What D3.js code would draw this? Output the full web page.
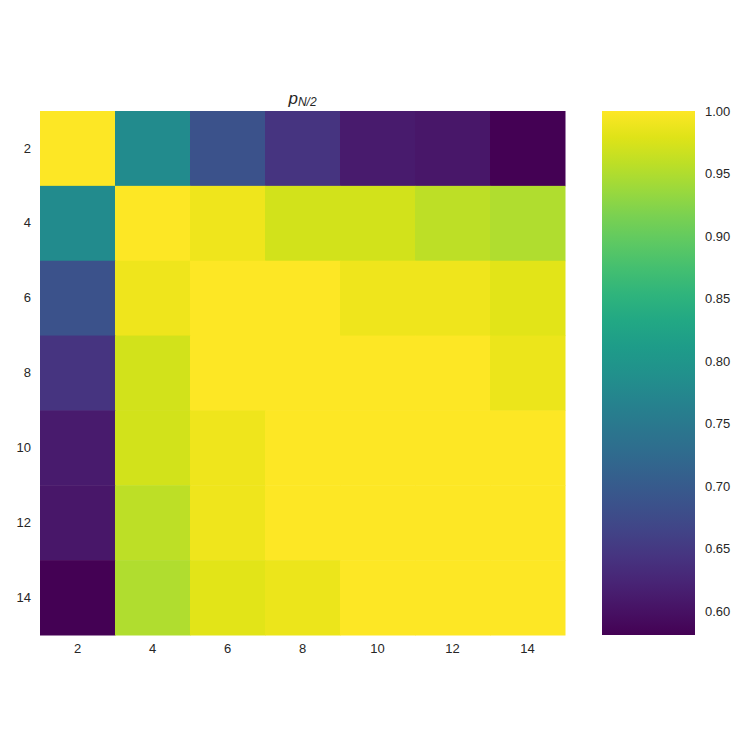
<!DOCTYPE html>
<html>
<head>
<meta charset="utf-8">
<script src="https://cdn.jsdelivr.net/npm/d3@7"></script>
<style>
  body { margin: 0; background: #fff; }
  text { font-family: "Liberation Sans", Arial, sans-serif; fill: #262626; }
</style>
</head>
<body>
<div id="chart"></div>
<script>
(function () {
  var xLabels = [2, 4, 6, 8, 10, 12, 14];
  var yLabels = [2, 4, 6, 8, 10, 12, 14];
  // one row per y label, one value per x label
  var row2 = [1.000, 0.782, 0.687, 0.644, 0.611, 0.607, 0.581];
  var row4 = [0.782, 1.000, 0.989, 0.971, 0.971, 0.958, 0.950];
  var row6 = [0.687, 0.989, 1.000, 1.000, 0.989, 0.989, 0.981];
  var row8 = [0.644, 0.971, 1.000, 1.000, 1.000, 1.000, 0.988];
  var row10 = [0.611, 0.971, 0.989, 1.000, 1.000, 1.000, 1.000];
  var row12 = [0.607, 0.958, 0.989, 1.000, 1.000, 1.000, 1.000];
  var row14 = [0.581, 0.950, 0.981, 0.988, 1.000, 1.000, 1.000];
  var colorTicks = [0.60, 0.65, 0.70, 0.75, 0.80, 0.85, 0.90, 0.95, 1.00];

  var rows = [row2, row4, row6, row8, row10, row12, row14];
  var width = 747;
  var height = 747;
  var plot = {left: 40, top: 111, right: 565, bottom: 635};
  var bar = {left: 602, right: 695};

  var svg = d3.select('#chart').append('svg')
      .attr('width', width)
      .attr('height', height);

  var x = d3.scaleBand().domain(xLabels).range([plot.left, plot.right]);
  var y = d3.scaleBand().domain(yLabels).range([plot.top, plot.bottom]);

  var all = d3.merge(rows);
  var vmin = d3.min(all);
  var vmax = d3.max(all);
  var color = d3.scaleSequential(d3.interpolateViridis).domain([vmin, vmax]);

  /**
   * Heatmap cells
   */
  var cells = [];
  rows.forEach(function (r, i) {
    r.forEach(function (v, j) {
      cells.push({x: xLabels[j], y: yLabels[i], v: v});
    });
  });

  svg.append('g').selectAll('rect')
      .data(cells)
      .enter().append('rect')
      .attr('x', function (d) { return x(d.x); })
      .attr('y', function (d) { return y(d.y); })
      .attr('width', x.bandwidth() + 0.5)
      .attr('height', y.bandwidth() + 0.5)
      .attr('fill', function (d) { return color(d.v); });

  var xAxis = svg.append('g')
      .attr('transform', 'translate(0,' + plot.bottom + ')')
      .call(d3.axisBottom(x).tickSize(0).tickPadding(9));
  var yAxis = svg.append('g')
      .attr('transform', 'translate(' + plot.left + ',0)')
      .call(d3.axisLeft(y).tickSize(0).tickPadding(9));

  [xAxis, yAxis].forEach(function (a) {
    a.select('.domain').remove();
    a.selectAll('text')
        .style('font-family', '"Liberation Sans", Arial, sans-serif')
        .style('font-size', '13px')
        .attr('fill', '#262626');
  });

  // title: italic p with subscript N/2
  var title = svg.append('text')
      .attr('x', (plot.left + plot.right) / 2)
      .attr('y', 104)
      .attr('text-anchor', 'middle')
      .style('font-style', 'italic');
  title.append('tspan').style('font-size', '17px').text('p');
  title.append('tspan').style('font-size', '12px').attr('dy', 2).text('N/2');

  /**
   * Colour bar
   */
  var defs = svg.append('defs');
  var grad = defs.append('linearGradient')
      .attr('id', 'cbar')
      .attr('x1', 0).attr('y1', 1)
      .attr('x2', 0).attr('y2', 0);
  d3.range(0, 1.0001, 0.05).forEach(function (t) {
    grad.append('stop')
        .attr('offset', t)
        .attr('stop-color', d3.interpolateViridis(t));
  });

  var cy = d3.scaleLinear().domain([vmin, vmax]).range([plot.bottom, plot.top]);

  svg.append('rect')
      .attr('x', bar.left)
      .attr('y', plot.top)
      .attr('width', bar.right - bar.left)
      .attr('height', plot.bottom - plot.top)
      .attr('fill', 'url(#cbar)');

  var cAxis = svg.append('g')
      .attr('transform', 'translate(' + bar.right + ',0)')
      .call(d3.axisRight(cy).tickValues(colorTicks).tickFormat(d3.format('.2f'))
          .tickSize(0).tickPadding(10));
  cAxis.select('.domain').remove();
  cAxis.selectAll('text')
      .style('font-family', '"Liberation Sans", Arial, sans-serif')
      .style('font-size', '13px')
      .attr('fill', '#262626');
}());
</script>
</body>
</html>
